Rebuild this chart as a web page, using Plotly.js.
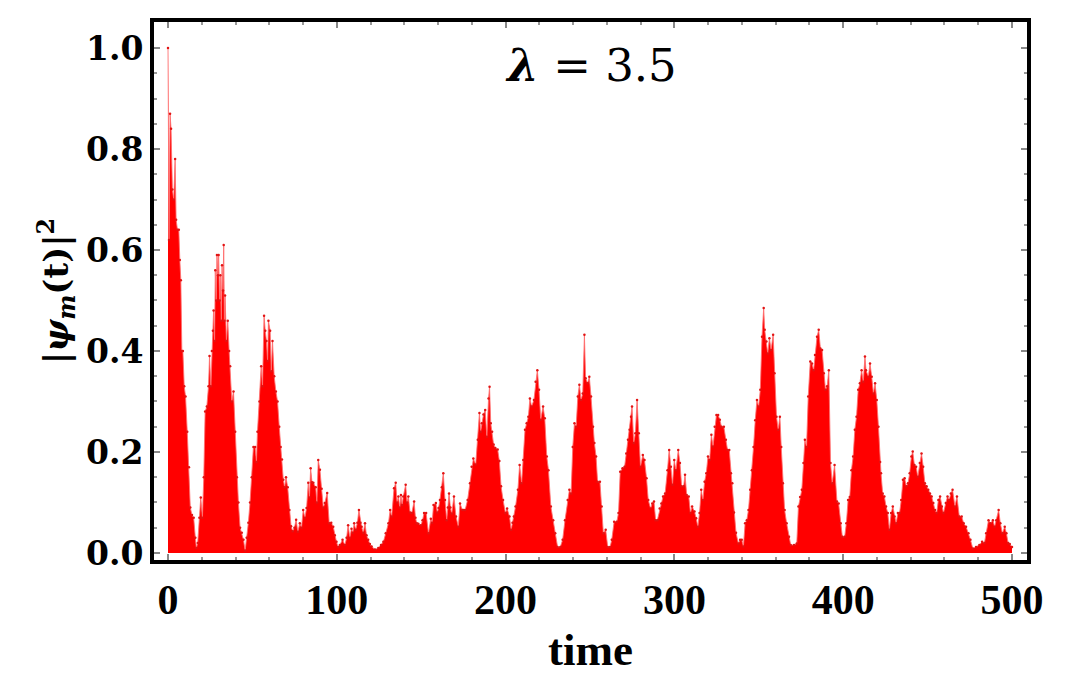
<!DOCTYPE html>
<html>
<head>
<meta charset="utf-8">
<script src="https://cdn.plot.ly/plotly-3.0.1.min.js"></script>
<style>html,body{margin:0;padding:0;background:#fff;}#chart{width:1077px;height:685px;}</style>
</head>
<body>
<div id="chart"></div>
<script>
// time values (envelope samples)
const time = [0,0.6,1.2,1.8,2.6,3.4,4.2,4.8,5.6,6.4,7.0,7.6,8.2,8.8,9.6,10.4,11.4,12.4,13.2,14.2,15.2,16.2,16.8,
17.6,18.6,19.4,20.4,21.2,22.0,23.0,24.0,24.6,25.4,26.0,26.6,27.0,27.6,28.0,28.6,29.0,29.6,30.0,30.6,31.0,31.6,32.0,32.6,33.0,33.4,33.8,34.6,35.4,36.2,36.8,37.8,38.8,39.8,40.8,41.7,42.7,43.7,44.7,45.7,
46.6,47.6,48.6,49.6,50.6,51.6,52.4,53.0,54.2,55.2,56.0,56.9,57.6,58.3,59.0,59.5,60.5,61.2,61.9,62.9,63.9,64.9,65.9,66.7,67.5,68.3,69.1,69.9,70.9,71.9,72.9,73.9,74.9,75.9,76.9,
78.1,79.1,80.1,81.1,82.1,83.1,83.8,84.5,85.3,86.1,87.5,88.2,89,90,91,92,92.9,94.3,95.5,96.7,97.9,98.8,99.8,100.8,101.8,103.4,104.8,105.8,106.7,107.7,108.7,109.5,110.3,111.2,112.2,113.1,114.0,114.7,115.7,116.7,117.6,118.6,119.6,120.6,122.6,124.6,126.2,127.6,129,130.6,131.6,132.5,133.9,134.9,135.7,136.5,137.3,138,138.7,139.4,140.8,141.6,142.4,143.4,144.4,145.8,146.6,147.4,148.3,149.9,150.8,151.7,152.9,154.3,155.7,156.5,157.3,158.7,159.5,160.3,161.1,
162.2,163.1,164.1,165.1,165.8,166.5,167.3,168.1,169.4,170.6,172,173,174.4,175.2,176,177.5,178.9,179.9,180.9,182.3,183.5,184.5,185.2,185.9,186.9,187.9,188.9,189.9,190.5,191.2,192,192.9,193.9,195.3,196.3,197.3,198.5,199.9,200.9,202.3,203.3,204.1,204.9,205.9,207.3,208.3,209.5,210.5,211.5,212.5,213.5,214.4,215.4,216.8,217.8,218.8,219.8,220.8,222.2,223.2,224.4,225.4,226.8,228.2,229.4,230.8,232.4,233.8,235.2,236.8,237.8,238.8,239.8,240.8,241.8,242.8,243.7,244.7,245.7,246.7,247.4,248.6,249.6,250.6,251.8,252.6,253.6,254.5,255.9,256.9,257.9,259.3,260.5,261.9,262.9,264.3,265.9,266.9,267.9,269.3,270.5,271.5,272.5,273.5,274.3,274.9,275.9,276.9,277.9,278.9,279.9,281.3,282.3,283.5,284.5,285.9,286.9,287.9,288.9,289.9,291.3,292.3,293.3,294.5,295.9,296.9,297.9,298.9,299.9,300.9,302.3,303.3,304.3,305.5,306.3,307.3,308.5,309.5,310.5,311.9,312.9,313.9,314.9,315.9,316.9,317.9,318.9,319.9,320.9,321.9,322.9,323.9,324.9,325.9,326.9,327.9,329.3,330.5,331.5,332.5,333.5,334.3,335.3,336.5,337.9,338.9,339.9,340.9,341.9,342.9,343.9,344.9,345.9,346.9,347.9,348.9,349.9,350.9,351.9,352.9,353.5,354.5,355.3,356.3,357.3,358.5,359.3,360.5,361.5,362.5,363.3,364.3,365.3,366.5,367.9,368.9,370.9,372.5,373.5,374.5,375.5,376.5,377.3,378.3,379.3,380.5,381.5,382.5,383.3,384.5,385.5,386.5,387.5,388.5,389.5,390.5,391.5,392.5,393.5,394.9,396.3,397.3,398.5,399.5,400.9,401.9,402.9,403.9,404.9,405.9,406.9,407.9,408.9,409.9,410.9,411.9,412.9,413.5,414.9,415.9,416.9,417.9,418.9,419.9,420.9,421.9,422.4,423.4,424.4,425.4,426.4,427.4,428.4,429.4,430.4,431.4,432.4,433.4,434.4,435.4,436.4,437.4,438.4,439.4,440.4,441.2,442.2,443.2,444.2,445.4,446.4,447.4,448.4,449.4,450.4,451.4,452.4,453.4,454.4,455.4,456.4,457.4,458.4,459.4,460.8,461.8,462.8,463.8,464.8,466.2,467.4,468.8,470.2,471.4,472.8,474.2,475.4,476.8,478.7,480.7,482.3,483.7,484.7,486.1,487.3,488.7,489.7,490.7,492.1,493.1,494.3,495.7,496.7,497.7,498.7,500];

// |psi_m(t)|^2 values
const prob = [1.0,0.62,0.87,0.84,0.72,0.70,0.78,0.66,0.64,0.64,0.58,0.54,0.40,0.40,0.33,0.31,0.24,0.17,0.09,0.075,0.07,0.03,0.01,
0.02,0.07,0.11,0.07,0.15,0.28,0.29,0.33,0.39,0.33,0.40,0.44,0.48,0.42,0.56,0.50,0.59,0.55,0.59,0.50,0.55,0.46,0.57,0.52,0.61,0.46,0.51,0.42,0.46,0.40,0.37,0.30,0.32,0.24,0.15,0.10,0.05,0.04,0.026,0.005,
0.03,0.06,0.10,0.15,0.21,0.21,0.18,0.24,0.30,0.37,0.33,0.47,0.44,0.42,0.38,0.46,0.44,0.36,0.42,0.35,0.32,0.30,0.25,0.21,0.185,0.145,0.13,0.15,0.13,0.085,0.053,0.043,0.05,0.066,0.042,
0.059,0.05,0.085,0.07,0.089,0.139,0.11,0.168,0.14,0.139,0.13,0.10,0.184,0.165,0.127,0.09,0.099,0.119,0.059,0.06,0.052,0.035,0.022,0.012,0.016,0.026,0.016,0.03,0.055,0.03,0.048,0.04,0.059,0.046,0.06,0.085,0.06,0.052,0.04,0.059,0.035,0.026,0.018,0.013,0.007,0.01,0.016,0.022,0.039,0.059,0.085,0.072,0.128,0.139,0.10,0.112,0.09,0.115,0.095,0.112,0.135,0.10,0.112,0.08,0.079,0.102,0.07,0.059,0.058,0.055,0.065,0.079,0.079,0.039,0.068,0.06,0.095,0.099,0.08,0.089,0.105,
0.13,0.158,0.105,0.065,0.09,0.118,0.09,0.078,0.112,0.072,0.052,0.098,0.085,0.085,0.085,0.105,0.138,0.171,0.187,0.175,0.224,0.277,0.24,0.257,0.274,0.283,0.23,0.306,0.329,0.257,0.24,0.215,0.208,0.205,0.182,0.132,0.105,0.079,0.088,0.072,0.046,0.06,0.072,0.092,0.125,0.174,0.138,0.184,0.244,0.257,0.27,0.306,0.29,0.303,0.339,0.362,0.323,0.264,0.29,0.267,0.191,0.164,0.092,0.065,0.039,0.012,0.012,0.026,0.065,0.105,0.125,0.118,0.21,0.257,0.25,0.31,0.333,0.303,0.316,0.432,0.346,0.336,0.349,0.31,0.25,0.218,0.191,0.141,0.141,0.092,0.039,0.046,0.012,0.012,0.026,0.062,0.062,0.079,0.161,0.168,0.171,0.197,0.224,0.244,0.27,0.29,0.218,0.237,0.303,0.237,0.171,0.194,0.184,0.148,0.105,0.088,0.098,0.102,0.065,0.065,0.088,0.098,0.112,0.118,0.164,0.204,0.171,0.135,0.184,0.164,0.204,0.178,0.132,0.132,0.155,0.115,0.112,0.079,0.092,0.082,0.069,0.052,0.079,0.125,0.105,0.141,0.158,0.191,0.184,0.234,0.211,0.25,0.273,0.273,0.264,0.25,0.25,0.224,0.204,0.204,0.158,0.138,0.08,0.04,0.019,0.026,0.026,0.013,0.059,0.065,0.085,0.125,0.164,0.21,0.263,0.303,0.29,0.323,0.428,0.485,0.442,0.419,0.395,0.425,0.402,0.432,0.356,0.27,0.244,0.27,0.21,0.138,0.085,0.059,0.032,0.016,0.016,0.019,0.092,0.111,0.125,0.178,0.224,0.21,0.31,0.379,0.375,0.362,0.392,0.428,0.442,0.405,0.402,0.356,0.323,0.33,0.362,0.178,0.138,0.174,0.102,0.098,0.059,0.032,0.032,0.059,0.105,0.111,0.164,0.191,0.244,0.27,0.323,0.336,0.362,0.339,0.389,0.362,0.349,0.375,0.349,0.316,0.336,0.303,0.25,0.18,0.158,0.118,0.112,0.092,0.079,0.046,0.079,0.092,0.072,0.059,0.079,0.079,0.105,0.145,0.148,0.132,0.138,0.158,0.191,0.201,0.174,0.171,0.151,0.178,0.197,0.171,0.138,0.132,0.125,0.118,0.112,0.099,0.085,0.079,0.105,0.112,0.092,0.079,0.099,0.112,0.105,0.118,0.125,0.092,0.112,0.072,0.072,0.059,0.052,0.039,0.026,0.009,0.012,0.016,0.022,0.02,0.039,0.065,0.059,0.065,0.052,0.065,0.085,0.059,0.039,0.052,0.039,0.02,0.018,0.012];

const xTickVals = [0,100,200,300,400,500];
const xTickText = ['0','100','200','300','400','500'];
const yTickVals = [0,0.2,0.4,0.6,0.8,1.0];
const yTickText = ['0.0','0.2','0.4','0.6','0.8','1.0'];

const trace = {
  x: time, y: prob, type: 'scatter', mode: 'lines+markers',
  fill: 'tozeroy', fillcolor: 'rgb(255,0,0)',
  line: {color: 'rgba(255,110,110,0.85)', width: 1},
  marker: {color: 'rgb(225,20,20)', size: 2.5},
  hoverinfo: 'x+y', showlegend: false
};

const tickFontX = {family: 'Liberation Serif, serif', size: 42, color: '#000', weight: 'bold'};
const tickFontY = {family: 'DejaVu Serif, serif', size: 33, color: '#000', weight: 'bold'};

const layout = {
  width: 1077, height: 685,
  margin: {l: 154, r: 50, t: 22, b: 125},
  paper_bgcolor: '#fff', plot_bgcolor: '#fff',
  title: {
    text: '<b><i>λ</i></b> = 3.5',
    font: {family: 'DejaVu Serif, serif', size: 45, color: '#000'},
    x: 0.5497, xanchor: 'center', y: 0.905, yanchor: 'middle'
  },
  xaxis: {
    range: [-8.3, 508.9], showgrid: false, zeroline: false,
    showline: true, linecolor: '#000', linewidth: 4, mirror: 'ticks',
    ticks: 'inside', ticklen: 6, tickwidth: 2, tickcolor: '#888',
    tickmode: 'array', tickvals: xTickVals, ticktext: xTickText,
    tickfont: tickFontX,
    minor: {dtick: 20, ticks: 'inside', ticklen: 3, tickwidth: 2, tickcolor: '#999'},
    title: {text: '<b>time</b>', font: {family: 'Liberation Serif, serif', size: 45, color: '#000'}, standoff: 12},
    automargin: false
  },
  yaxis: {
    range: [-0.0139, 1.0515], showgrid: false, zeroline: false,
    showline: true, linecolor: '#000', linewidth: 4, mirror: 'ticks',
    ticks: 'inside', ticklen: 6, tickwidth: 2, tickcolor: '#888',
    tickmode: 'array', tickvals: yTickVals, ticktext: yTickText,
    tickfont: tickFontY,
    minor: {dtick: 0.05, ticks: 'inside', ticklen: 3, tickwidth: 2, tickcolor: '#999'},
    title: {text: '<b>|<i>ψ</i><sub><i>m</i></sub>(t)|<sup>2</sup></b>', font: {family: 'DejaVu Serif, serif', size: 34, color: '#000'}, standoff: 8},
    automargin: false
  }
};

Plotly.newPlot('chart', [trace], layout, {displayModeBar: false, staticPlot: true});
</script>
</body>
</html>
